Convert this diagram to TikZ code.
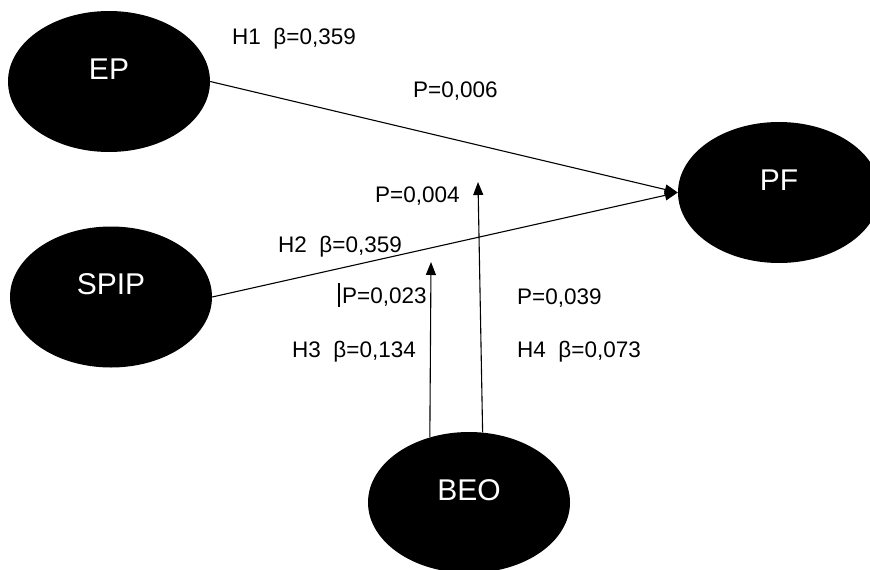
\documentclass[tikz,border=0pt]{standalone}
\usepackage{fontspec}
\setmainfont{Liberation Sans}
\usetikzlibrary{shapes.geometric,arrows.meta}
\begin{document}
\begin{tikzpicture}[x=1pt,y=-1pt,
  latent/.style={ellipse,fill=black,draw=none,minimum width=202pt,minimum height=141pt,
    inner sep=0pt,text=white,font=\fontsize{30}{36}\selectfont,text height=0pt,text depth=5pt},
  lbl/.style={anchor=base west,inner sep=0pt,font=\fontsize{22.5}{27}\selectfont},
  arr/.style={line width=1.1pt,-{Triangle[length=13pt,width=10pt]}},
  cursorbar/.style={line width=2pt}]
\useasboundingbox (0,0) rectangle (870,570);
\node[latent] (EP) at (109,81.5) {EP};
\node[latent] (SPIP) at (111,297) {SPIP};
\node[latent] (PF) at (779,192.5) {PF};
\node[latent] (BEO) at (469,502.5) {BEO};
\coordinate (t1) at (431,262);
\coordinate (t2) at (478,182);
\draw[arr] (EP.east) -- (PF.west);
\draw[arr] (SPIP.east) -- (PF.west);
\draw[arr] (BEO.121) -- (t1);
\draw[arr] (BEO.79) -- (t2);
\node[lbl] (h1) at (232,44) {H1~~β=0,359};
\node[lbl] (p1) at (413,97) {P=0,006};
\node[lbl] (p2) at (375,202) {P=0,004};
\node[lbl] (h2) at (278,252) {H2~~β=0,359};
\node[lbl] (p3) at (342,303) {P=0,023};
\node[lbl] (h3) at (292,357) {H3~~β=0,134};
\node[lbl] (p4) at (517,304) {P=0,039};
\node[lbl] (h4) at (517,357) {H4~~β=0,073};
\draw[cursorbar] ([xshift=-3pt,yshift=4pt]p3.north west) -- ([xshift=-3pt]p3.base west |- 0,307);
\end{tikzpicture}
\end{document}
